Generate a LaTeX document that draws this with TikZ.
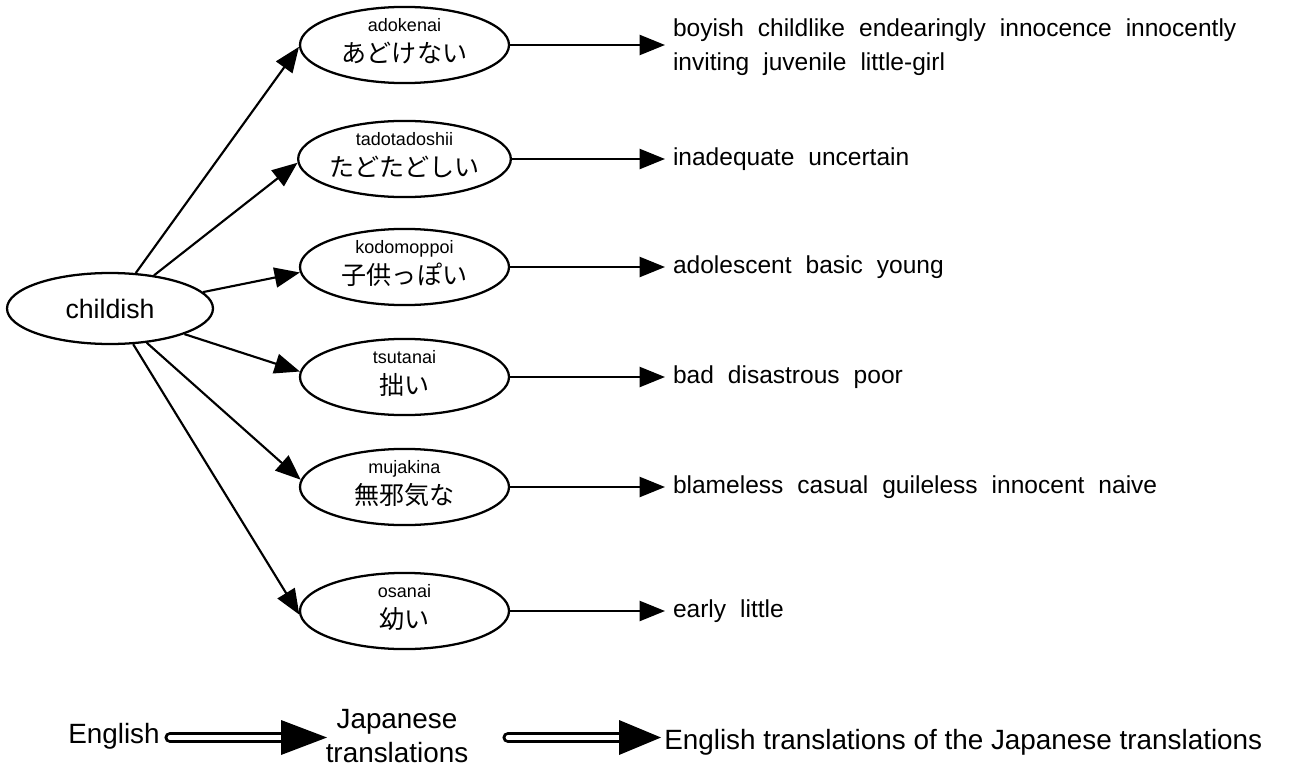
\documentclass[tikz,border=0pt]{standalone}
\usepackage{fontspec}
\setmainfont{Liberation Sans}
\newfontfamily\jpfont{Noto Sans CJK JP}
\usetikzlibrary{shapes.geometric,arrows.meta,calc}
\newcommand\gp{\hspace{10.5pt}}
\newcommand\jpn[2]{#1\\{\jpfont\fontsize{18.8}{23.6}\selectfont #2\rule[-7pt]{0pt}{0pt}}}
\tikzset{
  ell/.style={draw, ellipse, line width=1.7pt, minimum width=156.75pt, minimum height=54pt, inner sep=0pt},
  jpell/.style={ell, align=center, font=\fontsize{13.5}{23.6}\selectfont},
  conn/.style={line width=1.6pt, -{Triangle[length=19pt,width=15pt]}},
  words/.style={anchor=west, inner xsep=6pt, inner ysep=0pt, outer sep=0pt, align=left, font=\fontsize{18.4}{25.5}\selectfont},
  oneline/.style={words, text height=13.2pt, text depth=3.9pt},
  legtext/.style={font=\fontsize{20.9}{25.5}\selectfont, align=center, inner sep=0pt},
  legshaft/.style={draw=black, line width=2.4pt, double=white, double distance=3.6pt, line cap=round},
  leghead/.style={fill=black},
}
\begin{document}
\begin{tikzpicture}[x=0.75pt, y=-0.75pt]
\useasboundingbox (0,0) rectangle (1289,774);

% source node
\node[ell, minimum width=154.5pt, minimum height=53.25pt, font=\fontsize{20}{24}\selectfont] (ch) at (110,308.5) {childish};

% Japanese translations
\node[jpell] (jp1) at (404.5,45)  {\jpn{adokenai}{あどけない}};
\node[jpell] (jp2) at (404.5,159) {\jpn{tadotadoshii}{たどたどしい}};
\node[jpell] (jp3) at (404.5,267) {\jpn{kodomoppoi}{子供っぽい}};
\node[jpell] (jp4) at (404.5,377) {\jpn{tsutanai}{拙い}};
\node[jpell] (jp5) at (404.5,487) {\jpn{mujakina}{無邪気な}};
\node[jpell] (jp6) at (404.5,611) {\jpn{osanai}{幼い}};

% English back-translations
\node[words] (t1) at (665,45) {\rule{0pt}{16.4pt}boyish\gp childlike\gp endearingly\gp innocence\gp innocently\\inviting\gp juvenile\gp little-girl};
\node[oneline] (t2) at (665,159) {inadequate\gp uncertain};
\node[oneline] (t3) at (665,267) {adolescent\gp basic\gp young};
\node[oneline] (t4) at (665,377) {bad\gp disastrous\gp poor};
\node[oneline] (t5) at (665,487) {blameless\gp casual\gp guileless\gp innocent\gp naive};
\node[oneline] (t6) at (665,611) {early\gp little};

% connectors
\draw[conn] (ch.54.8)  -- (jp1.181);
\draw[conn] (ch.37)    -- (jp2.182);
\draw[conn] (ch.10)    -- (jp3.183);
\draw[conn] (ch.-19.5) -- (jp4.177);
\draw[conn] (ch.-43)   -- (jp5.176);
\draw[conn] (ch.-57.5) -- (jp6.182);

\draw[conn] (jp1.east) -- (t1.west);
\draw[conn] (jp2.east) -- (t2.west);
\draw[conn] (jp3.east) -- (t3.west);
\draw[conn] (jp4.east) -- (t4.west);
\draw[conn] (jp5.east) -- (t5.west);
\draw[conn] (jp6.east) -- (t6.west);

% legend
\node[legtext, anchor=base west] (l1) at (68,743) {English};
\node[legtext] (l2) at (397,736) {Japanese\\translations};
\node[legtext, anchor=base west] (l3) at (664,749) {English translations of the Japanese translations};

\coordinate (l1a) at (170,737.5);
\coordinate (l1h) at (281,737.5);
\coordinate (l1b) at (327,737.5);
\coordinate (l2a) at (508,737.5);
\coordinate (l2h) at (619,737.5);
\coordinate (l2b) at (661,737.5);

\draw[legshaft] (l1a) -- (l1h);
\fill[leghead] (l1b) -- ($(l1h)+(0,-17.5)$) -- ($(l1h)+(0,17.5)$) -- cycle;
\draw[legshaft] (l2a) -- (l2h);
\fill[leghead] (l2b) -- ($(l2h)+(0,-17.5)$) -- ($(l2h)+(0,17.5)$) -- cycle;
\end{tikzpicture}
\end{document}
